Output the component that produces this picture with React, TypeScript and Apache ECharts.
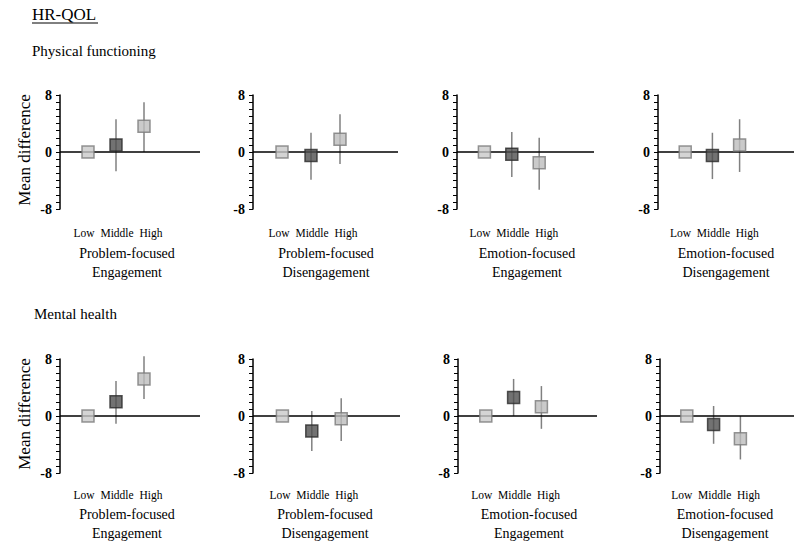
import React, { useEffect, useRef } from "react";
import * as echarts from "echarts";

const categories = ["Low", "Middle", "High"];
const categoryLabel = categories.join("  ");
const rowTitles = ["Physical functioning", "Mental health"];
const panelTitles = [
  "Problem-focused\nEngagement",
  "Problem-focused\nDisengagement",
  "Emotion-focused\nEngagement",
  "Emotion-focused\nDisengagement",
];

// Physical functioning: means for Low, Middle, High
const pfMeans = [
  [0, 1.0, 3.6],
  [0, -0.5, 1.8],
  [0, -0.3, -1.5],
  [0, -0.5, 1.0],
];
// Physical functioning: lower / upper CI for Middle, High
const pfLower = [
  [-2.7, 0.0],
  [-3.9, -1.7],
  [-3.5, -5.3],
  [-3.8, -2.8],
];
const pfUpper = [
  [4.6, 7.0],
  [2.7, 5.3],
  [2.8, 2.0],
  [2.7, 4.6],
];

// Mental health
const mhMeans = [
  [0, 2.0, 5.2],
  [0, -2.1, -0.4],
  [0, 2.6, 1.3],
  [0, -1.2, -3.2],
];
const mhLower = [
  [-1.1, 2.4],
  [-4.9, -3.5],
  [0.0, -1.8],
  [-3.9, -6.1],
];
const mhUpper = [
  [4.9, 8.4],
  [0.7, 2.5],
  [5.2, 4.2],
  [1.4, 0.0],
];

const FONT = "'Liberation Serif', 'Times New Roman', serif";

const rowGeom = [
  { top: 95, lefts: [60, 253, 457, 658], widths: [140, 145, 137, 143], titleY: 244, labelMargin: 18 },
  { top: 359, lefts: [60, 253, 458, 660], widths: [140, 147, 139, 147], titleY: 505, labelMargin: 16 },
];
const titleCenters = [
  [127, 326, 527, 726],
  [127, 325, 529, 725],
];

const markerStyles = [
  { color: "#c9c9c9", borderColor: "#7a7a7a", borderWidth: 1.5 },
  { color: "#4f4f4f", borderColor: "#2a2a2a", borderWidth: 1.5 },
  { color: "#bdbdbd", borderColor: "#7a7a7a", borderWidth: 1.5 },
];

export default function App() {
  const ref = useRef<HTMLDivElement>(null);
  useEffect(() => {
    if (!ref.current) return;
    const chart = echarts.init(ref.current, null, { renderer: "svg" });
    const grids: any[] = [];
    const xAxes: any[] = [];
    const yAxes: any[] = [];
    const series: any[] = [];
    const titles: any[] = [];
    const data = [
      { means: pfMeans, lower: pfLower, upper: pfUpper },
      { means: mhMeans, lower: mhLower, upper: mhUpper },
    ];
    let idx = 0;
    for (let r = 0; r < 2; r++) {
      const g = rowGeom[r];
      for (let c = 0; c < 4; c++) {
        grids.push({ left: g.lefts[c], top: g.top, width: g.widths[c], height: 114 });
        xAxes.push({
          type: "value",
          gridIndex: idx,
          min: 0,
          max: 5,
          interval: 1,
          axisLine: { show: false, onZero: false },
          axisTick: { show: false },
          splitLine: { show: false },
          axisLabel: {
            margin: g.labelMargin,
            color: "#000",
            fontFamily: FONT,
            fontSize: 11.5,
            padding: [0, 0, 0, 4],
            formatter: (v: number) => (v === 2 ? categoryLabel : ""),
          },
        });
        yAxes.push({
          type: "value",
          gridIndex: idx,
          min: -8,
          max: 8,
          interval: 8,
          axisLine: { show: true, lineStyle: { color: "#000", width: 1.5 } },
          axisTick: { show: true, length: 4, lineStyle: { color: "#000", width: 1 } },
          minorTick: { show: true, splitNumber: 8, length: 4, lineStyle: { color: "#000", width: 1 } },
          splitLine: { show: false },
          minorSplitLine: { show: false },
          axisLabel: {
            margin: 8,
            color: "#000",
            fontFamily: FONT,
            fontSize: 14,
            fontWeight: "bold",
          },
        });
        const d = data[r];
        const errData = [
          [2, d.lower[c][0], d.upper[c][0]],
          [3, d.lower[c][1], d.upper[c][1]],
        ];
        series.push({
          type: "custom",
          xAxisIndex: idx,
          yAxisIndex: idx,
          z: 2,
          clip: false,
          data: errData,
          renderItem: (params: any, api: any) => {
            const x = api.value(0);
            const p1 = api.coord([x, api.value(1)]);
            const p2 = api.coord([x, api.value(2)]);
            return {
              type: "line",
              shape: { x1: p1[0], y1: p1[1], x2: p2[0], y2: p2[1] },
              style: { stroke: "#808080", lineWidth: 1.5 },
            };
          },
          markLine: {
            silent: true,
            symbol: ["none", "none"],
            label: { show: false },
            lineStyle: { color: "#000", width: 1.6, type: "solid" },
            data: [{ yAxis: 0 }],
          },
        });
        series.push({
          type: "scatter",
          xAxisIndex: idx,
          yAxisIndex: idx,
          z: 5,
          symbol: "rect",
          symbolSize: 12,
          data: d.means[c].map((m, i) => ({ value: [i + 1, m], itemStyle: markerStyles[i] })),
        });
        titles.push({
          text: panelTitles[c],
          left: titleCenters[r][c],
          top: g.titleY,
          textAlign: "center",
          padding: 0,
          textStyle: {
            fontFamily: FONT,
            fontSize: 14,
            fontWeight: "normal",
            color: "#000",
            lineHeight: 19,
          },
        });
        idx++;
      }
    }
    chart.setOption({
      animation: false,
      backgroundColor: "#fff",
      title: titles,
      grid: grids,
      xAxis: xAxes,
      yAxis: yAxes,
      series,
      graphic: [
        {
          type: "text",
          left: 32,
          top: 6,
          style: { text: "HR-QOL", fontFamily: FONT, fontSize: 17, fill: "#000" },
        },
        {
          type: "line",
          shape: { x1: 32, y1: 23, x2: 98, y2: 23 },
          style: { stroke: "#000", lineWidth: 1 },
        },
        {
          type: "text",
          left: 32,
          top: 43,
          style: { text: rowTitles[0], fontFamily: FONT, fontSize: 15, fill: "#000" },
        },
        {
          type: "text",
          left: 34,
          top: 306,
          style: { text: rowTitles[1], fontFamily: FONT, fontSize: 15, fill: "#000" },
        },
        {
          type: "text",
          x: 24,
          y: 150,
          rotation: Math.PI / 2,
          style: {
            text: "Mean difference",
            fontFamily: FONT,
            fontSize: 17,
            fill: "#000",
            align: "center",
            verticalAlign: "middle",
          },
        },
        {
          type: "text",
          x: 24,
          y: 414,
          rotation: Math.PI / 2,
          style: {
            text: "Mean difference",
            fontFamily: FONT,
            fontSize: 17,
            fill: "#000",
            align: "center",
            verticalAlign: "middle",
          },
        },
      ],
    });
    return () => chart.dispose();
  }, []);
  return (
    <div
      ref={ref}
      style={{ position: "fixed", left: 0, top: 0, width: 797, height: 544, background: "#fff" }}
    />
  );
}
